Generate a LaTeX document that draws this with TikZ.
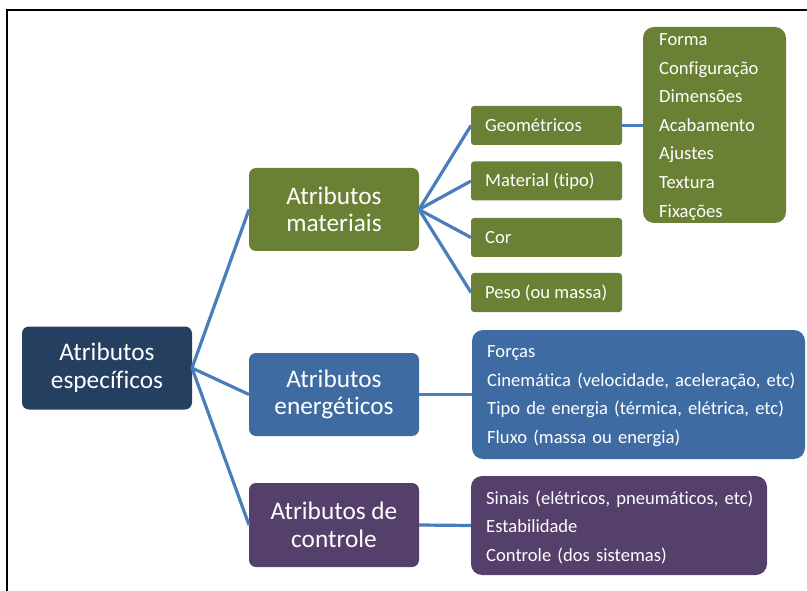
\documentclass[tikz,border=0pt]{standalone}
\usepackage{fontspec}
\setmainfont{Carlito}[Ligatures=NoCommon]
\definecolor{navy}{HTML}{243F60}
\definecolor{olive}{HTML}{6A8034}
\definecolor{midblue}{HTML}{3F6BA3}
\definecolor{plum}{HTML}{54406A}
\definecolor{link}{HTML}{4A7EBB}
\begin{document}
\begin{tikzpicture}[x=1pt,y=-1pt,
  box/.style={draw=none,text=white,inner sep=0pt,outer sep=0pt,align=center},
  big/.style={box,minimum width=170pt,minimum height=83pt,rounded corners=7pt,font={\fontsize{25.3}{27.5}\selectfont}},
  small/.style={box,minimum width=151pt,minimum height=39pt,rounded corners=3pt,fill=olive},
  smalltext/.style={text=white,inner sep=0pt,anchor=west,font={\fontsize{18.6}{20}\selectfont}},
  list/.style={box,rounded corners=11pt},
  listtext/.style={text=white,inner sep=0pt,anchor=west,text width=340pt,font={\fontsize{18.6}{28.6}\selectfont},align=left,yshift=-1.8pt},
  conn/.style={draw=link,line width=3.2pt}]
\useasboundingbox (0,0) rectangle (807,591);
\draw[line width=2.3pt] (7,591) -- (7,10) -- (807,10);
% nodes
\node[big,fill=navy] (root) at (107,368) {Atributos\\específicos};
\node[big,fill=olive] (mat) at (334,209.5) {Atributos\\materiais};
\node[big,fill=midblue] (ene) at (334,394.5) {Atributos\\energéticos};
\node[big,fill=plum,minimum height=84pt] (con) at (334,525) {Atributos de\\controle};
\node[small] (geo) at (546.5,125.5) {};
\node[small] (mt) at (546.5,181) {};
\node[small] (cor) at (546.5,237.5) {};
\node[small] (pes) at (546.5,292.5) {};
\node[smalltext] (geoT) at ([xshift=14pt]geo.west) {Geométricos};
\node[smalltext] (mtT) at ([xshift=14pt]mt.west) {Material (tipo)};
\node[smalltext] (corT) at ([xshift=14pt]cor.west) {Cor};
\node[smalltext] (pesT) at ([xshift=14pt]pes.west) {Peso (ou massa)};
\node[list,fill=olive,minimum width=143pt,minimum height=196pt] (glist) at (714.5,125) {};
\node[listtext] (glistT) at ([xshift=16pt]glist.west) {Forma\\Configuração\\Dimensões\\Acabamento\\Ajustes\\Textura\\Fixações};
\node[list,fill=midblue,minimum width=333pt,minimum height=129pt] (elist) at (638.5,394.5) {};
\node[listtext] (elistT) at ([xshift=15pt]elist.west)
  {Forças\\Cinemática (velocidade, aceleração, etc)\\Tipo de energia (térmica, elétrica, etc)\\Fluxo (massa ou energia)};
\node[list,fill=plum,minimum width=296pt,minimum height=99pt] (clist) at (619,525.5) {};
\node[listtext] (clistT) at ([xshift=15pt]clist.west)
  {Sinais (elétricos, pneumáticos, etc)\\Estabilidade\\Controle (dos sistemas)};
% connectors
\foreach \t in {mat,ene,con} \draw[conn] (root.east) -- (\t.west);
\foreach \t in {geo,mt,cor,pes} \draw[conn] (mat.east) -- (\t.west);
\draw[conn] (geo.east) -- (glist.west |- geo.east);
\draw[conn] (ene.east) -- (elist.west);
\draw[conn] (con.east) -- (clist.west);
\end{tikzpicture}
\end{document}
